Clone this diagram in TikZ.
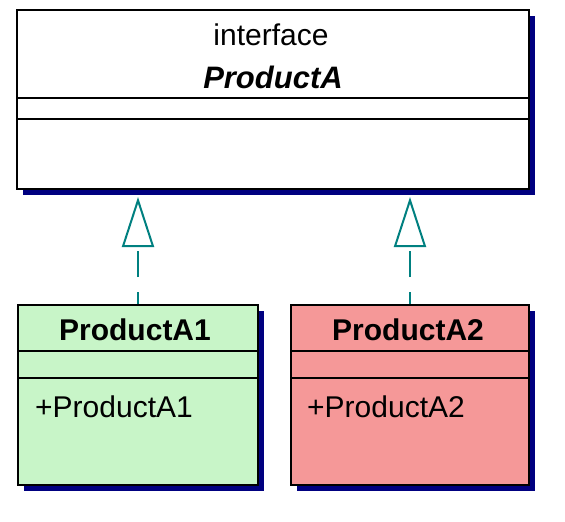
\documentclass[tikz,border=0pt]{standalone}
\usepackage{fontspec}
\setmainfont{Liberation Sans}
\usetikzlibrary{arrows.meta,shadows,calc}
\definecolor{navyshadow}{RGB}{0,0,128}
\definecolor{greenfill}{RGB}{200,245,200}
\definecolor{pinkfill}{RGB}{245,152,152}
\definecolor{tealline}{RGB}{0,128,128}
\tikzset{
  classbox/.style={draw=black, line width=2pt, rectangle, inner sep=0pt,
    general shadow={fill=navyshadow, shadow xshift=6pt, shadow yshift=-6pt}},
  divider/.style={draw=black, line width=2pt},
  realize/.style={draw=tealline, line width=2pt, dash pattern=on 26pt off 15pt, dash phase=14pt,
    -{Triangle[open, width=32pt, length=50pt, line width=2pt, fill=white]}},
  lbl/.style={inner sep=0pt, font=\fontsize{30}{30}\selectfont},
}
\begin{document}
\begin{tikzpicture}[x=1pt,y=-1pt]
\useasboundingbox[fill=white] (0,0) rectangle (565,522);
% boxes
\node[classbox, fill=white, minimum width=512pt, minimum height=179pt] (top) at (273,99.5) {};
\node[classbox, fill=greenfill, minimum width=240pt, minimum height=180pt] (a1) at (138,395) {};
\node[classbox, fill=pinkfill, minimum width=238pt, minimum height=180pt] (a2) at (410,395) {};
% dividers
\draw[divider] (top.west |- 0,98) -- (top.east |- 0,98);
\draw[divider] (top.west |- 0,119) -- (top.east |- 0,119);
\draw[divider] (a1.west |- 0,351) -- (a1.east |- 0,351);
\draw[divider] (a1.west |- 0,378) -- (a1.east |- 0,378);
\draw[divider] (a2.west |- 0,351) -- (a2.east |- 0,351);
\draw[divider] (a2.west |- 0,378) -- (a2.east |- 0,378);
% texts
\node[lbl] (tstereo) at (271,35) {interface};
\node[lbl, font=\fontsize{31}{31}\selectfont\bfseries\itshape] (tname) at (273,77) {ProductA};
\node[lbl, font=\fontsize{30}{30}\selectfont\bfseries] (a1name) at (135,330) {ProductA1};
\node[lbl, font=\fontsize{30}{30}\selectfont\bfseries] (a2name) at (408,330) {ProductA2};
\node[lbl, anchor=west] (a1op) at (35,407) {+ProductA1};
\node[lbl, anchor=west] (a2op) at (307,407) {+ProductA2};
% realizations
\draw[realize] (a1.north) -- ($(a1.north |- top.south)+(0,7)$);
\draw[realize] (a2.north) -- ($(a2.north |- top.south)+(0,7)$);
\end{tikzpicture}
\end{document}
